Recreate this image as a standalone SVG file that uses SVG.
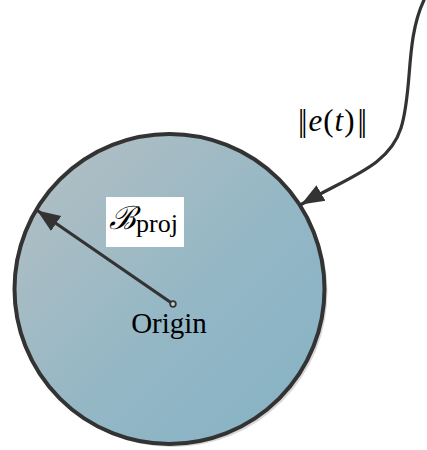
<svg xmlns="http://www.w3.org/2000/svg" width="427" height="450" viewBox="0 0 427 450">
<style>
.ln{fill:none;stroke:#333;stroke-width:3.2;stroke-linecap:round}
.tx{font-family:"Liberation Serif","DejaVu Serif",serif;fill:#000}
</style>
<defs>
<linearGradient id="g" x1="0" y1="0" x2="1" y2="1">
<stop offset="0" stop-color="#b6c0c3"/>
<stop offset="0.55" stop-color="#94b7c5"/>
<stop offset="1" stop-color="#85b2c5"/>
</linearGradient>
<marker id="ah" markerUnits="userSpaceOnUse" markerWidth="24" markerHeight="20" refX="22" refY="9" orient="auto" viewBox="0 0 24 18">
<path d="M0,0 L23,9 L0,18 Z" fill="#333"/>
</marker>
</defs>
<g id="ball">
<circle cx="172.5" cy="292" r="155" fill="#d8d8d8"/>
<circle cx="169.5" cy="289" r="155" fill="url(#g)" stroke="#333" stroke-width="4"/>
</g>
<g id="connectors">
<path class="ln" d="M173,304 L38,211" marker-end="url(#ah)"/>
<path class="ln" d="M424,0 C405,40 413,90 401,128 C389,166 350,176 302,204" marker-end="url(#ah)"/>
</g>
<g id="origin">
<circle cx="173" cy="304" r="2.8" fill="#c6d0d4" stroke="#333" stroke-width="1.8"/>
<text class="tx" x="169" y="333" font-size="29" text-anchor="middle">Origin</text>
</g>
<g id="label-bproj">
<rect x="106" y="197" width="78" height="50" fill="#fff"/>
<text class="tx" x="109" y="229" font-size="32" font-style="italic">ℬ<tspan font-size="26" font-style="normal" dy="3">proj</tspan></text>
</g>
<g id="label-error">
<text class="tx" x="298" y="131" font-size="31"><tspan letter-spacing="-3">||</tspan><tspan font-style="italic" dx="4">e</tspan><tspan dx="1">(</tspan><tspan font-style="italic" dx="1">t</tspan><tspan dx="1">)</tspan><tspan dx="3" letter-spacing="-3">||</tspan></text>
</g>
</svg>
